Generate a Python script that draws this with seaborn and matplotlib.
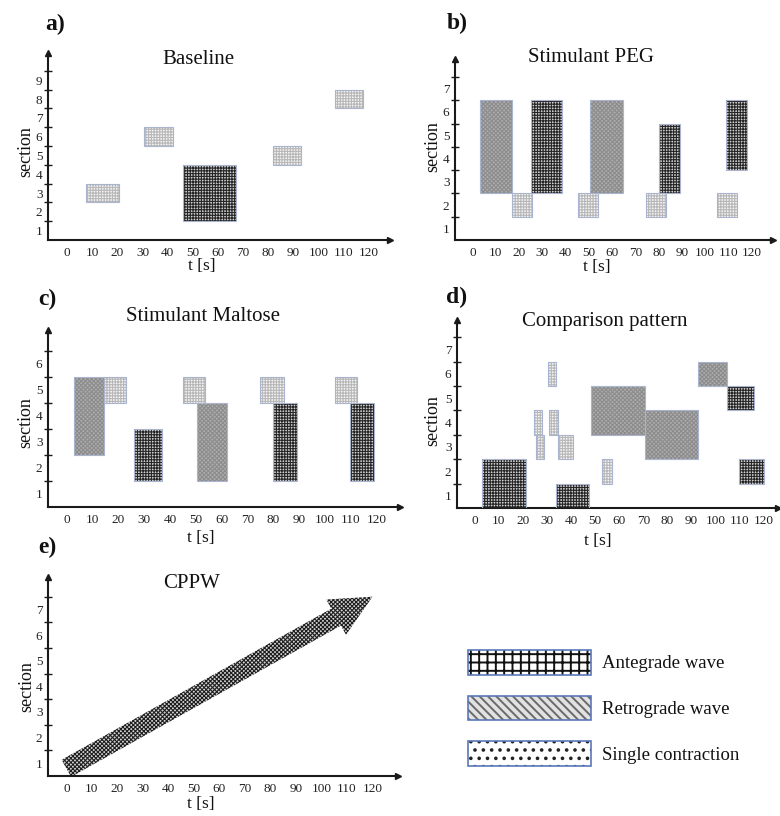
import matplotlib
matplotlib.use("Agg")
import matplotlib.pyplot as plt
import seaborn as sns
from matplotlib.patches import Patch
from matplotlib.legend_handler import HandlerTuple

# ---------------- data ----------------
# kind: A = antegrade wave, R = retrograde wave, S = single contraction
# t0/t1: time span [s]; lo/hi: section band boundaries (section k spans k-1..k)
a_kind = ["S", "S", "A", "S", "S"]
a_t0 = [7.5, 30.5, 46.0, 82.0, 106.5]
a_t1 = [20.5, 42.0, 67.0, 93.0, 117.5]
a_lo = [2, 5, 1, 4, 7]
a_hi = [3, 6, 4, 5, 8]

b_kind = ["R", "S", "A", "S", "R", "S", "A", "S", "A"]
b_t0 = [3.0, 17.0, 25.0, 45.5, 50.5, 74.5, 80.0, 105.0, 109.0]
b_t1 = [17.0, 25.5, 38.5, 54.0, 64.5, 83.0, 89.0, 113.5, 118.0]
b_lo = [2, 1, 2, 1, 2, 1, 2, 1, 3]
b_hi = [6, 2, 6, 2, 6, 2, 5, 2, 6]

c_kind = ["R", "S", "A", "S", "R", "S", "A", "S", "A"]
c_t0 = [3.0, 14.5, 26.0, 45.0, 50.5, 75.0, 80.0, 104.0, 109.5]
c_t1 = [14.5, 23.0, 37.0, 53.5, 62.0, 84.0, 89.0, 112.5, 119.0]
c_lo = [2, 4, 1, 4, 1, 4, 1, 4, 1]
c_hi = [5, 5, 3, 5, 4, 5, 4, 5, 4]

d_kind = ["A", "A", "S", "S", "S", "S", "S", "S", "R", "R", "R", "A", "A"]
d_t0 = [3.0, 34.0, 24.5, 25.5, 30.5, 31.0, 34.5, 53.0, 48.5, 70.5, 92.5, 104.5, 109.5]
d_t1 = [21.5, 47.5, 28.0, 29.0, 34.0, 34.5, 41.0, 57.0, 70.5, 92.5, 104.5, 116.0, 120.0]
d_lo = [0, 0, 3, 2, 5, 3, 2, 1, 3, 2, 5, 4, 1]
d_hi = [2, 1, 4, 3, 6, 4, 3, 2, 5, 4, 6, 5, 2]

# CPPW: one propagating wave from (t, section) start to end
e_start = (0.0, 0.3)
e_end = (120.0, 7.0)

x_ticks = list(range(0, 130, 10))
titles = ["Baseline", "Stimulant PEG", "Stimulant Maltose", "Comparison pattern", "CPPW"]
panel_letters = ["a)", "b)", "c)", "d)", "e)"]
n_sections = [9, 7, 6, 7, 7]
legend_labels = ["Antegrade wave", "Retrograde wave", "Single contraction"]

# ---------------- style ----------------
sns.set_theme(style="white")
plt.rcParams["font.family"] = ["Liberation Serif", "DejaVu Serif"]
plt.rcParams["hatch.linewidth"] = 0.8

W, H = 780, 816
fig = plt.figure(figsize=(W / 100, H / 100), dpi=100)
fig.patch.set_facecolor("white")


def px_rect(l, t, r, b):
    return [l / W, 1 - b / H, (r - l) / W, (b - t) / H]


STYLE = {
    "A": dict(face="#d0d0d0", hatchc="#262626", hatch="++++++"),
    "R": dict(face="#adadad", hatchc="#8c8c8c", hatch="xxxxxxxx"),
    "S": dict(face="#f4f4f4", hatchc="#b8b8b8", hatch="++++++"),
}
EDGE = "#a9b5cf"

layout = [
    dict(rect=(48, 53, 390, 240), xlim=(-7.5, 128.3), ylim=(0, 9.95)),
    dict(rect=(455, 59, 773, 240), xlim=(-7.6, 129.2), ylim=(0, 7.77)),
    dict(rect=(48, 330, 400, 507), xlim=(-7.24, 129.0), ylim=(0, 6.8)),
    dict(rect=(457, 320, 778, 508), xlim=(-7.2, 125.8), ylim=(0, 7.7)),
    dict(rect=(48, 577, 398, 776), xlim=(-7.2, 130.0), ylim=(0, 7.77)),
]
title_pos = [(198, 60), (591, 58), (203, 317), (605, 322), (192, 584)]
letter_pos = [(55, 24), (457, 23), (47, 299), (457, 297), (47, 547)]
xlabel_top = [(202, 258), (597, 259), (201, 530), (598, 533), (201, 796)]
ylabel_pos = [(26, 152), (433, 147), (26, 423), (433, 421), (27, 687)]

panels = [
    (a_kind, a_t0, a_t1, a_lo, a_hi),
    (b_kind, b_t0, b_t1, b_lo, b_hi),
    (c_kind, c_t0, c_t1, c_lo, c_hi),
    (d_kind, d_t0, d_t1, d_lo, d_hi),
    None,
]

for i, lay in enumerate(layout):
    ax = fig.add_axes(px_rect(*lay["rect"]))
    ax.set_facecolor("white")
    ax.set_xlim(*lay["xlim"])
    ax.set_ylim(*lay["ylim"])
    sns.despine(ax=ax)
    for s in ("left", "bottom"):
        ax.spines[s].set_linewidth(1.5)
        ax.spines[s].set_color("#1a1a1a")
    ns = n_sections[i]
    ax.set_xticks(x_ticks)
    ax.set_xticklabels([str(v) for v in x_ticks])
    ax.set_yticks(list(range(1, ns + 1)))
    ax.set_yticklabels([])
    ax.set_yticks([k - 0.5 for k in range(1, ns + 1)], minor=True)
    ax.set_yticklabels([str(k) for k in range(1, ns + 1)], minor=True)
    ax.tick_params(axis="x", which="major", direction="inout", length=6, width=1,
                   color="#1a1a1a", pad=2, labelsize=9.5, labelcolor="#222")
    ax.tick_params(axis="y", which="major", direction="inout", length=6, width=1,
                   color="#1a1a1a", left=True)
    ax.tick_params(axis="y", which="minor", length=0, pad=4, labelsize=9.5,
                   labelcolor="#222", left=True)
    ax.plot([1], [0], marker=">", color="#1a1a1a", ms=4.5, transform=ax.transAxes,
            clip_on=False)
    ax.plot([0], [1], marker="^", color="#1a1a1a", ms=4.5, transform=ax.transAxes,
            clip_on=False)

    data = panels[i]
    if data is not None:
        kind, t0, t1, lo, hi = data
        for k, a0, a1, s0, s1 in zip(kind, t0, t1, lo, hi):
            st = STYLE[k]
            ax.bar(a0, s1 - s0, width=a1 - a0, bottom=s0, align="edge",
                   color=st["face"], edgecolor=st["hatchc"], linewidth=0,
                   hatch=st["hatch"], zorder=2)
            ax.bar(a0, s1 - s0, width=a1 - a0, bottom=s0, align="edge",
                   fill=False, edgecolor=EDGE, linewidth=0.8, zorder=3)
    else:
        ax.annotate("", xy=e_end, xytext=e_start,
                    arrowprops=dict(arrowstyle="simple,head_length=3.0,head_width=2.9,tail_width=1.4",
                                    mutation_scale=10, facecolor="#d4d4d4",
                                    edgecolor="#1e1e1e", linewidth=0, hatch="xxxxxxxx",
                                    shrinkA=0, shrinkB=0),
                    annotation_clip=False, zorder=2)

    tx, ty = title_pos[i]
    fig.text(tx / W, 1 - ty / H, titles[i], ha="center", va="center",
             fontsize=15, color="#111")
    lx, ly = letter_pos[i]
    fig.text(lx / W, 1 - ly / H, panel_letters[i], ha="center", va="center",
             fontsize=17, fontweight="bold", color="#111")
    xx, xy = xlabel_top[i]
    fig.text(xx / W, 1 - xy / H, "t [s]", ha="center", va="top", fontsize=12.5,
             color="#111")
    yx, yy = ylabel_pos[i]
    fig.text(yx / W, 1 - yy / H, "section", ha="center", va="center", fontsize=13,
             rotation=90, color="#111")

# ---------------- legend ----------------
LEG_EDGE = "#5a78b8"
leg_styles = [("white", "#111111", "++", 1.4), ("#e2e2e2", "#6a6a6a", "\\\\\\\\", 1.4),
              ("white", "#222222", "..", 1.0)]
with plt.rc_context({"hatch.linewidth": 1.4}):
    handles = []
    for face, hc, hatch, hlw in leg_styles:
        p1 = Patch(facecolor=face, edgecolor=hc, linewidth=0, hatch=hatch)
        if hasattr(p1, "set_hatch_linewidth"):
            p1.set_hatch_linewidth(hlw)
        p2 = Patch(fill=False, edgecolor=LEG_EDGE, linewidth=1.2)
        handles.append((p1, p2))

    fig.legend(handles=handles, labels=legend_labels,
               handler_map={tuple: HandlerTuple(ndivide=1, pad=0)},
               loc="upper left", bbox_to_anchor=(468 / W, 1 - 650 / H),
               frameon=False, borderpad=0, borderaxespad=0,
               handlelength=6.56, handleheight=1.65, handletextpad=0.6,
               labelspacing=1.12, fontsize=13.5, labelcolor="#111")

fig.savefig("out.png", dpi=100, facecolor="white")
